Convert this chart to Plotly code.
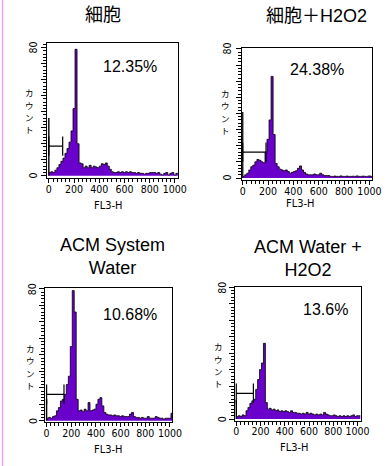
import plotly.graph_objects as go

# ---------------- data ----------------
bin_edges = [i * 16 for i in range(65)]  # FL3-H channel bins (0..1024)

counts_cells = [2, 2.5, 2, 3.5, 5, 7, 9, 11, 14, 17, 21, 28, 42, 79, 20, 8,
                7.5, 5, 6, 5, 6.5, 5, 6, 5.5, 5, 6, 7.5, 7, 8, 6, 4, 2.5,
                2, 2, 2.5, 2, 2.5, 2, 2.5, 2, 2.5, 2, 2, 1.5, 2, 1.5, 1.5, 1,
                1.5, 1.5, 2, 2, 2, 1.5, 2, 1, 0.5, 1.5, 2, 0.5, 1.5, 2, 0.5, 1.5]
counts_cells_h2o2 = [1, 2, 3, 5, 7, 8, 10, 11.5, 11, 10, 9.5, 16, 24, 36, 63, 27,
                     9, 7, 5.5, 5, 4.5, 5, 4, 3, 3.5, 4, 4.5, 6, 7.5, 5, 3.5, 2.5,
                     2, 2, 2, 2.5, 2, 2, 3, 2, 1.5, 1.5, 1.5, 1, 1, 1.2, 1, 1,
                     1.3, 1, 1, 1.2, 1, 1, 1.1, 1, 1.3, 1, 1, 1.2, 1, 1, 1.3, 1]
counts_acm_water = [1.5, 2, 1.5, 2.5, 3, 6, 8, 12, 13, 16, 22, 27, 45, 79, 66, 13,
                    6, 6.5, 5.5, 7, 6, 11, 6, 6.5, 7, 10, 13, 14, 9, 5, 4, 3.5,
                    3.5, 3, 3.5, 3, 3, 2.5, 3, 2.5, 2.5, 2.5, 4, 5, 2.5, 2, 2, 1.5,
                    2, 1.5, 1.5, 2.5, 1.5, 1.5, 1.5, 2.5, 2, 1.5, 1.5, 1, 1.5, 1.5, 1.5, 4.5]
counts_acm_water_h2o2 = [1.5, 2, 1.5, 2.5, 2, 5, 7, 9.5, 11, 12, 18, 24, 30, 34, 46, 10,
                         6, 6.5, 5.5, 6, 5, 5.5, 4.5, 5, 4.5, 5, 4.5, 4, 5, 4, 4, 3.5,
                         3.5, 3, 3.5, 3, 4, 3, 3.5, 3, 2.5, 3, 2.5, 3, 2.5, 4, 3, 2.5,
                         2, 2, 2.5, 2, 1.5, 2, 1.5, 2, 1.5, 2, 1.5, 2, 2.5, 1.5, 2, 2]

panel_titles = ["細胞", "細胞＋H2O2", "ACM System<br>Water", "ACM Water +<br>H2O2"]
percent_labels = ["12.35%", "24.38%", "10.68%", "13.6%"]
debris_peak = [36, 41, 13, 11.5]          # count at channel 0
gate_end = [110, 184, 141, 141]           # marker gate upper bound (FL3-H)
gate_level = [18.5, 16, 16, 15.6]         # height at which the gate is drawn
x_tick_values = [0, 200, 400, 600, 800, 1000]
y_tick_values = [0, 80]
x_label = "FL3-H"
y_label = "カウント"

all_counts = [counts_cells, counts_cells_h2o2, counts_acm_water, counts_acm_water_h2o2]

# ---------------- layout (pixel geometry) ----------------
W, H = 392, 466
def px(x):
    return x / W
def py(y):
    return 1 - y / H

frames = [  # left, right, top, bottom in pixels
    (46.7, 181.7, 43.3, 178.3),
    (247.7, 382.0, 47.7, 180.0),
    (44.3, 175.7, 288.3, 422.3),
    (240.3, 370.0, 286.7, 420.7),
]
x_ranges = [(-12.3, 1026), (-4.6, 1023), (-13.4, 1019), (-11.2, 1026)]
y_ranges = [(-1.6, 82.75), (-1.24, 80.8), (-0.97, 80.4), (-1.03, 80.4)]
title_pos = [(104, 15.5), (324, 15.8), (114, 256.5), (316, 258.2)]
pct_pos = [(132.5, 66.5), (324.5, 69.2), (132, 314.8), (334, 309.2)]
xlab_pos = [(110, 205.5), (307.7, 204), (110, 449), (301.7, 447.3)]
ylab_top = [(28.3, 86), (230.3, 86.7), (29, 341.7), (223, 340)]  # top of the vertical label
ylab_step = 12.4
ytick_offset = [15, 16, 13, 13]  # px left of the frame

PURPLE = "#6a00cc"
TXT = "Liberation Sans, Arial, Noto Sans CJK JP, sans-serif"
NARROW = "Liberation Sans Narrow, DejaVu Sans Condensed, Liberation Sans, Arial"
CJK = "Noto Sans CJK JP, Liberation Sans, sans-serif"

fig = go.Figure()
annotations = []

for k in range(4):
    sfx = "" if k == 0 else str(k + 1)
    xa, ya = "x" + sfx, "y" + sfx
    counts = all_counts[k]

    fig.add_trace(go.Scatter(
        x=bin_edges, y=counts + [counts[-1]], mode="lines", line_shape="hv",
        fill="tozeroy", fillcolor=PURPLE, line=dict(color="black", width=0.8),
        xaxis=xa, yaxis=ya, showlegend=False, hoverinfo="skip"))

    fig.add_trace(go.Scatter(
        x=[0, 0], y=[0, debris_peak[k]], mode="lines",
        line=dict(color="black", width=1.4),
        xaxis=xa, yaxis=ya, showlegend=False, hoverinfo="skip"))

    g, lv = gate_end[k], gate_level[k]
    fig.add_trace(go.Scatter(
        x=[0, g, None, g, g, None, 0, 0],
        y=[lv, lv, None, lv - 6, lv + 6, None, lv - 6, lv + 6],
        mode="lines", line=dict(color="black", width=1.2),
        xaxis=xa, yaxis=ya, showlegend=False, hoverinfo="skip"))

    l, r, t, b = frames[k]
    axis_common = dict(showline=True, mirror=True, linecolor="black", linewidth=1,
                       showgrid=False, zeroline=False, ticks="outside",
                       tickcolor="black", fixedrange=True)
    fig.layout["xaxis" + sfx] = dict(
        axis_common, domain=[px(l), px(r)], range=list(x_ranges[k]),
        anchor=ya, tickmode="array", tickvals=x_tick_values, ticklen=4, tickwidth=1,
        ticklabelstandoff=-3,
        tickfont=dict(family=NARROW, size=10.5, color="black"),
        minor=dict(dtick=200 / 6, ticklen=3, tickcolor="black", ticks="outside"))
    fig.layout["yaxis" + sfx] = dict(
        axis_common, domain=[py(b), py(t)], range=list(y_ranges[k]),
        anchor=xa, tickmode="linear", tick0=0, dtick=10, showticklabels=False,
        ticklen=5, tickwidth=1,
        minor=dict(dtick=2, ticklen=3, tickcolor="black", ticks="outside"))

    # y tick labels (rotated), placed at their data values
    for v in y_tick_values:
        annotations.append(dict(text=str(v), x=px(l - ytick_offset[k]), y=v,
                                xref="paper", yref=ya, showarrow=False, textangle=-90,
                                xanchor="center", yanchor="middle",
                                font=dict(family=NARROW, size=10.5, color="black")))

    tx, ty = title_pos[k]
    annotations.append(dict(text=panel_titles[k], x=px(tx), y=py(ty), xref="paper", yref="paper",
                            showarrow=False, xanchor="center", yanchor="middle",
                            font=dict(family=TXT, size=18, color="black")))
    cx, cy = pct_pos[k]
    annotations.append(dict(text=percent_labels[k], x=px(cx), y=py(cy), xref="paper", yref="paper",
                            showarrow=False, xanchor="center", yanchor="middle",
                            font=dict(family=TXT, size=16, color="black")))
    lx, ly = xlab_pos[k]
    annotations.append(dict(text=x_label, x=px(lx), y=py(ly), xref="paper", yref="paper",
                            showarrow=False, xanchor="center", yanchor="middle",
                            font=dict(family=NARROW, size=11, color="black")))
    vx, vy = ylab_top[k]
    for j, ch in enumerate(y_label):
        annotations.append(dict(text=ch, x=px(vx), y=py(vy + ylab_step * (j + 0.5)),
                                xref="paper", yref="paper", showarrow=False,
                                xanchor="center", yanchor="middle", borderpad=0,
                                font=dict(family=CJK, size=8.5, color="black")))

fig.update_layout(
    width=W, height=H, margin=dict(l=0, r=0, t=0, b=0),
    paper_bgcolor="white", plot_bgcolor="white",
    annotations=annotations,
    shapes=[dict(type="line", xref="paper", yref="paper", x0=px(0.5), x1=px(0.5),
                 y0=0, y1=1, line=dict(color="#ff9cf5", width=1.5))],
)

fig.write_html("out.html", config={"displayModeBar": False},
               post_script="document.body.style.margin='0px';document.body.style.overflow='hidden';")
